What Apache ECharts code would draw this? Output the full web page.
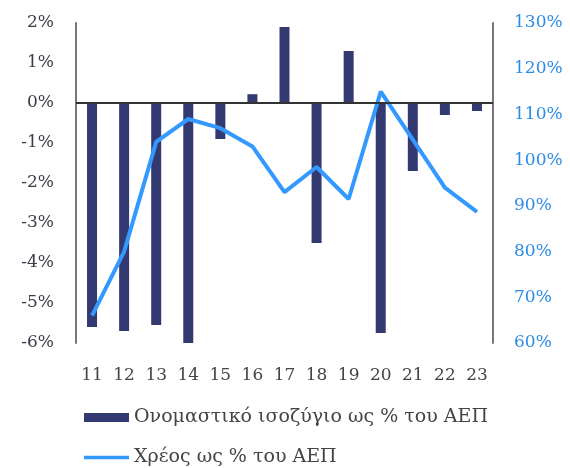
<!DOCTYPE html>
<html>
<head>
<meta charset="utf-8">
<script src="https://cdn.jsdelivr.net/npm/echarts@6/dist/echarts.min.js"></script>
<style>html,body{margin:0;padding:0;background:#fff}#c{width:570px;height:468px}</style>
</head>
<body>
<div id="c"></div>
<script>
var categories = ['11','12','13','14','15','16','17','18','19','20','21','22','23'];
var balance = [-5.6, -5.7, -5.55, -6.0, -0.9, 0.22, 1.9, -3.5, 1.3, -5.75, -1.7, -0.3, -0.2];
var debt = [66, 80, 104, 109, 107, 103, 93, 98.5, 91.5, 115, 104.5, 94, 88.7];
var balanceName = 'Ονομαστικό ισοζύγιο ως % του ΑΕΠ';
var debtName = 'Χρέος ως % του ΑΕΠ';

var chart = echarts.init(document.getElementById('c'), null, {renderer: 'canvas'});
var font = 'DejaVu Serif';
var legendText = {fontFamily: font, fontSize: 19, color: '#444'};
chart.setOption({
  animation: false,
  grid: {left: 76, right: 77, top: 23, bottom: 125},
  legend: [
    {left: 84, top: 408, itemWidth: 45, itemHeight: 9, itemGap: 6, padding: 0,
     textStyle: legendText,
     data: [{name: balanceName, icon: 'rect'}]},
    {left: 84, top: 448, itemWidth: 45, itemHeight: 9, padding: 0,
     textStyle: legendText,
     data: [{name: debtName, icon: 'path://M0,0 L45,0 L45,3.5 L0,3.5 Z'}]}
  ],
  xAxis: {
    type: 'category', data: categories,
    axisLine: {show: false}, axisTick: {show: false},
    axisLabel: {fontFamily: font, fontSize: 17, color: '#444', margin: 24, interval: 0}
  },
  yAxis: [
    {type: 'value', min: -6, max: 2, interval: 1,
     axisLine: {show: true, lineStyle: {color: '#777', width: 2}}, axisTick: {show: false},
     splitLine: {show: false},
     axisLabel: {formatter: '{value}%', fontFamily: font, fontSize: 17, color: '#3a3a4a', margin: 22}},
    {type: 'value', min: 60, max: 130, interval: 10, position: 'right',
     axisLine: {show: true, lineStyle: {color: '#777', width: 2}}, axisTick: {show: false},
     splitLine: {show: false},
     axisLabel: {formatter: '{value}%', fontFamily: font, fontSize: 17, color: '#2b8be6', margin: 21}}
  ],
  series: [
    {name: balanceName, type: 'bar', data: balance, barWidth: 10, yAxisIndex: 0,
     itemStyle: {color: '#333a72'},
     markLine: {silent: true, symbol: 'none', label: {show: false},
       lineStyle: {color: '#333', width: 2, type: 'solid'},
       data: [{yAxis: 0}]}},
    {name: debtName, type: 'line', data: debt, yAxisIndex: 1, symbol: 'none',
     lineStyle: {color: '#3399ff', width: 4}, itemStyle: {color: '#3399ff'}, z: 3}
  ]
});
</script>
</body>
</html>
